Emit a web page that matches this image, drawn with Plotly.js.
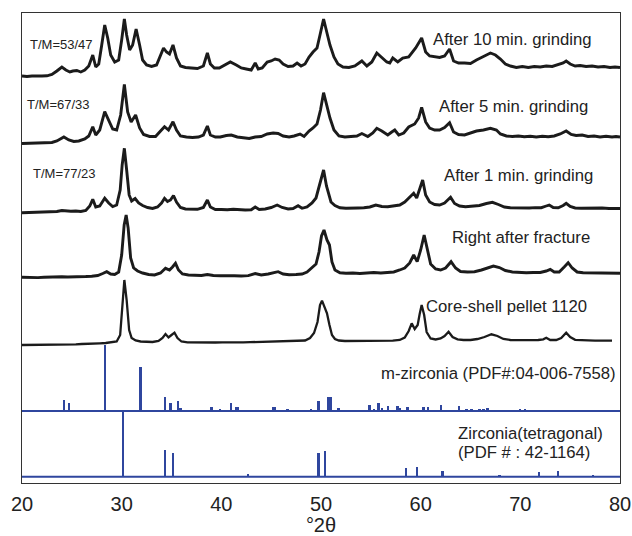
<!DOCTYPE html>
<html>
<head>
<meta charset="utf-8">
<script src="https://cdn.plot.ly/plotly-3.0.1.min.js"></script>
<style>
  html, body { margin: 0; padding: 0; background: #fff; }
  #chart { width: 632px; height: 536px; }
</style>
</head>
<body>
<div id="chart"></div>
<script>
// ---- XRD patterns (2θ in degrees, intensity in arbitrary units above each pattern's baseline) ----

// After 10 min. grinding
const tt10 = [20.0,20.5,21.0,21.5,22.0,22.5,23.0,23.5,24.0,24.4,24.8,25.1,25.5,25.9,26.3,26.7,27.1,27.4,27.7,28.0,28.3,28.6,28.9,29.3,29.7,30.0,30.27,30.5,30.8,31.1,31.45,31.8,32.1,32.5,33.0,33.5,33.9,34.2,34.5,34.8,35.15,35.5,35.9,36.4,37.0,37.6,38.2,38.6,38.9,39.3,39.8,40.3,40.9,41.5,42.0,42.5,43.0,43.4,43.7,44.1,44.6,45.0,45.4,45.8,46.2,46.7,47.2,47.6,48.0,48.4,48.8,49.2,49.6,49.9,50.26,50.6,50.9,51.3,51.7,52.2,52.8,53.4,54.1,54.6,55.1,55.6,56.1,56.6,56.9,57.2,57.7,58.2,58.8,59.5,60.1,60.5,60.9,61.4,61.9,62.4,62.9,63.3,63.8,64.4,65.0,65.6,66.2,67.0,67.5,68.0,68.5,69.0,69.6,70.2,70.8,71.4,72.0,72.6,73.2,73.8,74.3,74.6,75.0,75.5,76.0,76.6,77.2,77.8,78.4,79.0,79.5,80.0];
const int10 = [1,0.5,1,0.7,1,1.2,2.5,6,10,7,5,6,6.5,5,7,11,22,10,13,32,52,39,22,15,17,37,58,42,27,32,48,32,17,12,10.5,12,21,29,25,23,32,19,11,9.5,9,8.5,11,24,13,9,9,12,15,12,9,8,7,14,8,9,15,16,18,17,13,10.5,11,14,11,13,20,25,29,42,58,44,32,20,13,10,9.5,11,16,11,15,24,19,15,14,19,15,19,20,29,39,25,21,20,19.5,21,28,16,14,14,13.5,17,20,24,22,18,13,11,9.5,10.5,9.5,10.5,10,11,10.5,12,14,16,13,11,11.5,10.5,11,10,10.5,9.5,10,9.5];

// After 5 min. grinding
const tt5 = [20.0,20.5,21.0,21.5,22.0,22.5,23.0,23.5,24.2,24.7,25.2,25.7,26.3,26.7,27.1,27.4,27.8,28.3,28.7,29.1,29.5,29.9,30.27,30.6,30.95,31.4,31.8,32.2,32.8,33.4,33.9,34.3,34.7,35.15,35.5,35.9,36.5,37.1,37.7,38.2,38.6,38.9,39.4,39.9,40.5,41.0,41.6,42.2,42.8,43.4,44.0,44.6,45.2,45.7,46.2,46.8,47.3,47.9,48.3,48.8,49.2,49.6,49.95,50.26,50.6,50.9,51.3,51.8,52.4,53.0,53.6,54.1,54.7,55.2,55.6,56.1,56.7,57.1,57.4,57.8,58.3,58.8,59.4,59.8,60.1,60.5,60.9,61.4,61.9,62.4,62.9,63.3,63.8,64.4,64.9,65.6,66.3,67.0,67.6,68.0,68.6,69.2,69.8,70.4,71.0,71.6,72.2,72.8,73.4,74.0,74.6,75.1,75.6,76.2,76.8,77.4,78.0,78.6,79.2,79.6,80.0];
const int5 = [0.5,0.7,0.5,1,0.8,1,1.5,3,7,4,2.5,3,5,8,17.3,9,14,32.3,24,15,14,29,59.7,32,22,29,16,9.5,7.5,7.5,13,17.3,14,22.3,14,8,7,6.5,7,9,18,9,7,7,8.5,9,7,6,5.5,7,7.5,10,11,10.5,8,7,8,10,7.5,13,16,20,34,51.3,37.3,26,14,8,7,7.3,8,10.5,7.5,11,15.7,13,9,12,14,9,11,17,20,26,36.7,22,16,14,14,16.5,21.3,12,9.5,9,10.5,13,14,15.7,14,10,8,7.5,8,7.3,7.8,7,7.7,7.2,8,10,13,9.5,8.5,9,7.5,8,7,7.7,7,7.5,7];

// After 1 min. grinding
const tt1 = [20.0,20.5,21.0,21.5,22.0,22.5,23.0,23.5,24.0,24.4,24.9,25.4,25.9,26.4,26.8,27.1,27.4,27.8,28.3,28.7,29.1,29.5,29.85,30.05,30.27,30.5,30.75,31.0,31.35,31.7,32.1,32.6,33.1,33.6,34.0,34.3,34.6,34.9,35.2,35.5,35.9,36.4,37.0,37.6,38.2,38.6,38.9,39.4,40.0,40.6,41.2,41.8,42.4,43.0,43.4,43.8,44.4,45.0,45.6,46.1,46.7,47.2,47.7,48.1,48.6,49.1,49.5,49.85,50.26,50.55,50.8,51.0,51.4,51.9,52.5,53.1,53.7,54.3,54.9,55.5,56.1,56.7,57.3,57.9,58.4,58.9,59.3,59.6,59.9,60.2,60.5,60.9,61.4,61.9,62.4,63.0,63.4,63.9,64.5,65.2,65.9,66.6,67.2,67.8,68.4,69.0,69.7,70.3,70.9,71.5,72.1,72.6,72.9,73.3,73.8,74.3,74.6,75.0,75.5,76.1,76.8,77.5,78.2,78.9,79.5,80.0];
const int1 = [0.3,0.5,0.2,0.7,0.5,1,1.3,1.5,2.5,2,1.7,2,1.5,2.5,7,13.7,6,7,14.7,10,6.5,8,23,48,64.7,43,18,12,14.5,10,7.5,5.5,4.5,6,10,14.7,11.5,13,17.5,11,5.5,4,3.5,3.7,5.5,13,6,3.5,3.5,3.2,3.7,3,3,3.2,6,3.5,4,5.5,8,5.5,4,4.5,7.3,4.7,6,10,15,28,43,27,18,11,7.5,5.2,4.7,4.5,5,5.2,6,8,6.5,6.2,7,8,11,16,19.7,15,23,33,18,11,8.5,8,10,15.7,9.5,7,6.3,6.7,7.5,9.5,10.7,8.5,6,5.2,5,5.5,5,5.4,5.3,7,8,5.5,5.2,7.5,9.7,6.5,5,4.7,5,4.7,5,4.5,4.7,4.5];

// Right after fracture
const ttF = [20.0,20.5,21.0,21.6,22.2,22.8,23.4,24.0,24.6,25.2,25.8,26.4,27.0,27.6,28.1,28.5,28.9,29.3,29.7,30.0,30.25,30.45,30.65,30.9,31.2,31.6,32.1,32.7,33.3,33.9,34.4,34.8,35.1,35.4,35.7,36.1,36.7,37.3,38.0,38.6,39.2,39.9,40.6,41.3,42.0,42.7,43.4,44.0,44.7,45.3,45.7,46.2,46.8,47.5,48.1,48.6,49.1,49.5,49.8,50.05,50.3,50.6,50.85,51.1,51.4,51.9,52.5,53.2,53.9,54.6,55.3,56.0,56.7,57.3,57.9,58.4,58.9,59.3,59.65,60.0,60.35,60.7,61.0,61.5,62.0,62.5,63.05,63.5,64.0,64.7,65.4,66.1,66.7,67.3,67.9,68.5,69.2,69.9,70.6,71.3,72.0,72.6,73.0,73.4,73.9,74.4,74.8,75.2,75.7,76.3,77.0,77.7,78.4,79.1,79.6,80.0];
const intF = [0.7,0.5,0.8,0.4,0.7,1,0.8,1.2,1,1.4,1.2,1.5,1.8,2.5,4.5,6.3,4,3.5,6,23,53,63,50,20,10,7,5,3.5,3,5,9.7,8,11,14.7,8,4,3,2.8,2.5,3.5,2.5,2.2,2.4,2.2,2,2.4,4.5,3,4,5.5,6.3,4,3.2,3.5,4,6,10,14,26,42,48,38,33,16,8,5.2,4.7,5,4.5,5,5.5,5,5.5,6,8,10,15,23,16.3,28,43,28,14,9,8,10,16.3,10,6.5,6,6.3,8,10,12,10.5,7.5,6,5.5,5.2,5.5,5.5,7,8.7,6,6,11,15.3,10,6,5.2,5,4.8,5,4.7,5,4.7];

// Core-shell pellet 1120
const ttP = [20.0,20.6,21.2,21.8,22.4,23.0,23.6,24.2,24.8,25.4,26.0,26.6,27.2,27.8,28.4,29.0,29.5,29.85,30.05,30.27,30.5,30.75,31.0,31.4,31.9,32.5,33.1,33.7,34.1,34.4,34.7,35.0,35.3,35.6,36.0,36.6,37.3,38.0,38.7,39.4,40.1,40.8,41.5,42.2,42.9,43.6,44.3,45.0,45.7,46.4,47.1,47.8,48.4,48.9,49.3,49.65,49.9,50.1,50.35,50.6,50.85,51.1,51.4,51.8,52.4,53.0,53.7,54.4,55.1,55.8,56.5,57.2,57.9,58.4,58.8,59.1,59.4,59.7,59.9,60.1,60.35,60.6,61.0,61.5,62.0,62.4,62.8,63.2,63.7,64.3,65.0,65.7,66.4,67.1,67.7,68.3,69.0,69.7,70.4,71.1,71.8,72.3,72.6,73.0,73.6,74.1,74.6,75.0,75.5,76.1,76.8,77.5,78.2,78.8,79.2];
const intP = [0,0,0.2,0,0.3,0.3,0.5,0.4,0.7,0.7,1,1,1.2,1.7,2,2.5,3.5,10,40,65,45,15,7,4.5,3.5,3,3,4,7,11,7.5,10,12.3,7,3.5,2.7,2.5,2.5,2.6,2.5,2.7,2.5,2.7,2.6,2.8,3,2.8,3,3.2,3.2,3.4,3.7,4.5,7,12,23,40,44.3,37,31.7,20,10,6,4.5,4,4,4,4,4.2,4.2,4,4.3,5,7.5,14,21.7,16,20,31,40,30,13,6.5,5.5,6.5,9,13.3,8,5.7,5,5,6,8,10.7,9,6,5,4.8,5,4.8,5,5.7,7.3,5,5,7,12.3,8,5.2,4.7,4.6,4.4,4.5,4.3,4.3];

// Reference patterns (stick positions and relative heights)
const mTheta  = [24.19,24.69,28.3,31.88,34.32,34.89,35.66,35.9,39.0,39.9,41.0,41.5,41.65,45.2,45.35,46.65,49.02,49.76,50.76,50.96,51.76,54.87,55.3,55.77,56.1,56.71,57.67,57.9,58.68,60.28,60.7,62.06,63.83,64.6,65.1,65.9,66.3,66.7,70.0,70.5];
const mHeight = [11,8.3,66,44.3,13.7,8.3,10.3,3,4,2,8,3.7,3.7,4,4,2,2.5,10,13.7,13.7,3.3,6,2,7.7,2.7,5,5,2.7,4,4.3,4.3,6,5,2,1.8,2,2,2.7,1.8,1.8];
const tTheta  = [30.1,34.32,35.12,42.64,49.76,50.43,58.55,59.65,62.2,67.9,71.85,73.8,77.26];
const tHeight = [65.5,26.7,23.3,2.7,23.3,25.7,9,9.7,5.7,2,5,6,2];

const TEXT = '#222';
const FONT = 'Liberation Sans, Arial, Helvetica, sans-serif';
const INK = '#1b1b1b';
const BLUE = '#2f469e';

// vertical stacking of the patterns in axis units
const stack = [
  {x: tt10, y: int10, base: 406, w: 2.9},
  {x: tt5,  y: int5,  base: 339, w: 2.9},
  {x: tt1,  y: int1,  base: 270, w: 2.9},
  {x: ttF,  y: intF,  base: 205, w: 2.9},
  {x: ttP,  y: intP,  base: 138, w: 2.3}
];
const mBase = 72, tBase = 6.3;

const traces = stack.map(s => ({
  type: 'scatter', mode: 'lines',
  x: s.x, y: s.y.map(v => v + s.base),
  line: {color: INK, width: s.w},
  hoverinfo: 'skip', showlegend: false
}));

[[mTheta, mHeight, mBase], [tTheta, tHeight, tBase]].forEach(([xs, hs, b]) => {
  traces.push({
    type: 'scatter', mode: 'lines', x: [19.85, 80], y: [b, b],
    line: {color: BLUE, width: 2}, cliponaxis: false,
    hoverinfo: 'skip', showlegend: false
  });
  traces.push({
    type: 'bar', x: xs, y: hs, base: b, width: 0.23,
    marker: {color: BLUE, line: {width: 0}},
    hoverinfo: 'skip', showlegend: false
  });
});

function label(text, x, y, size) {
  return {text: text, x: x, y: y, xref: 'x', yref: 'y', xanchor: 'left', yanchor: 'middle',
          showarrow: false, font: {family: FONT, size: size, color: TEXT}};
}

const annotations = [
  label('T/M=53/47', 20.6, 438.7, 13),
  label('T/M=67/33', 20.27, 378.7, 13),
  label('T/M=77/23', 20.93, 309.7, 13),
  label('After 10 min. grinding', 61.05, 444, 16.7),
  label('After 5 min. grinding', 61.66, 376.3, 16.7),
  label('After 1 min. grinding', 62.16, 307.3, 16.7),
  label('Right after fracture', 62.93, 245.7, 16.7),
  label('Core-shell pellet 1120', 60.38, 177, 16.7),
  label('m-zirconia (PDF#:04-006-7558)', 55.81, 109.7, 16.7),
  label('Zirconia(tetragonal)', 63.5, 49.7, 16.7),
  label('(PDF # : 42-1164)', 63.5, 30.3, 16.7)
];

const layout = {
  width: 632, height: 536,
  margin: {l: 21.5, r: 12, t: 13, b: 53},
  paper_bgcolor: '#fff', plot_bgcolor: '#fff',
  barmode: 'overlay', bargap: 0,
  showlegend: false,
  xaxis: {
    range: [20, 80], tickvals: [20, 30, 40, 50, 60, 70, 80],
    ticks: '', ticklabelstandoff: 3, showgrid: false, zeroline: false,
    showline: true, mirror: true, linecolor: '#333', linewidth: 1.2,
    tickfont: {family: FONT, size: 20, color: TEXT},
    title: {text: '°2θ', font: {family: FONT, size: 20, color: TEXT}, standoff: 4}
  },
  yaxis: {
    range: [0, 470], showticklabels: false, ticks: '',
    showgrid: false, zeroline: false,
    showline: true, mirror: true, linecolor: '#333', linewidth: 1.2
  },
  annotations: annotations
};

Plotly.newPlot('chart', traces, layout, {displayModeBar: false, staticPlot: true});
</script>
</body>
</html>
